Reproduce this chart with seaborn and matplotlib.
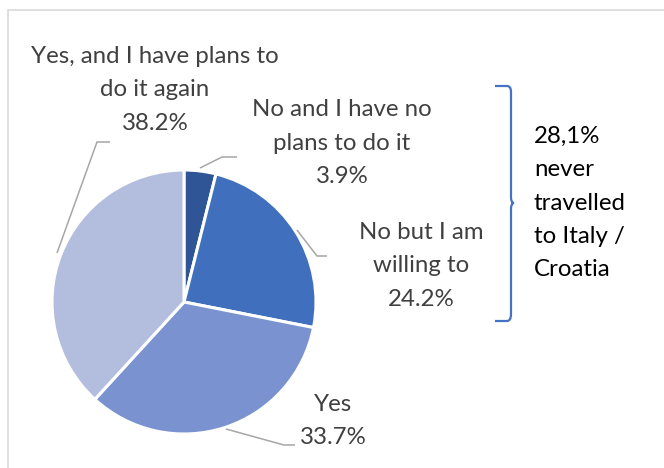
import matplotlib
matplotlib.use("Agg")
import matplotlib.pyplot as plt
from matplotlib.patches import Rectangle
from matplotlib.path import Path
from matplotlib.patches import PathPatch
import seaborn as sns

# Survey answers, clockwise from the top of the pie
answers = ["No and I have no\nplans to do it", "No but I am\nwilling to", "Yes",
           "Yes, and I have plans to\ndo it again"]
shares = [3.9, 24.2, 33.7, 38.2]
colors = ["#2F5597", "#4070BD", "#7A93D0", "#B3BEDF"]
brace_note = "28,1%\nnever\ntravelled\nto Italy /\nCroatia"

sns.set_theme(style="white")
plt.rcParams["font.family"] = ["Lato", "DejaVu Sans"]

W, H = 664, 468
fig = plt.figure(figsize=(W / 100, H / 100), dpi=100)
ax = fig.add_axes([0, 0, 1, 1])
ax.set_xlim(0, W)
ax.set_ylim(0, H)
ax.set_axis_off()


def P(x, y):
    """Convert top-left pixel position to axes data coordinates."""
    return (x, H - y)


# chart frame
ax.add_patch(Rectangle(P(8, 700), 800, 690, fill=False, edgecolor="#D9D9D9", linewidth=1.2))

cx, cy, r = 184, 302, 132
wedges, _ = ax.pie(shares, colors=colors, startangle=90, counterclock=False,
                   center=P(cx, cy), radius=r,
                   wedgeprops=dict(edgecolor="white", linewidth=2.2))
ax.set_xlim(0, W)
ax.set_ylim(0, H)
ax.set_aspect("equal")

FS = 17.3
LS = 1.72
label_pos = [(342, 143), (421, 266), (333, 421), (155, 90)]
leaders = [
    [(200, 168), (222, 157), (237, 157)],
    [(297, 230), (317, 256), (327, 256)],
    [(226, 429), (284, 445), (295, 445)],
    [(57, 253), (97, 142), (110, 142)],
]
for name, val, pos, pts in zip(answers, shares, label_pos, leaders):
    ax.text(*P(*pos), f"{name}\n{val:.1f}%", ha="center", va="center",
            fontsize=FS, color="#404040", linespacing=LS)
    xs = [p[0] for p in pts]
    ys = [H - p[1] for p in pts]
    ax.plot(xs, ys, color="#A6A6A6", linewidth=1.1, solid_capstyle="butt")

# brace grouping the two "No" answers
verts = [P(495, 86), P(507, 86), P(511, 86), P(511, 92),
         P(511, 197), P(511, 203), P(514, 203),
         P(511, 203), P(511, 209), P(511, 314),
         P(511, 321), P(507, 321), P(495, 321)]
codes = [Path.MOVETO, Path.LINETO, Path.CURVE3, Path.CURVE3,
         Path.LINETO, Path.CURVE3, Path.CURVE3,
         Path.CURVE3, Path.CURVE3, Path.LINETO,
         Path.CURVE3, Path.CURVE3, Path.LINETO]
ax.add_patch(PathPatch(Path(verts, codes), fill=False, edgecolor="#4472C4", linewidth=1.6))
ax.text(*P(534, 203), brace_note, ha="left", va="center", fontsize=FS,
        color="black", linespacing=LS)

fig.savefig("out.png", dpi=100)
